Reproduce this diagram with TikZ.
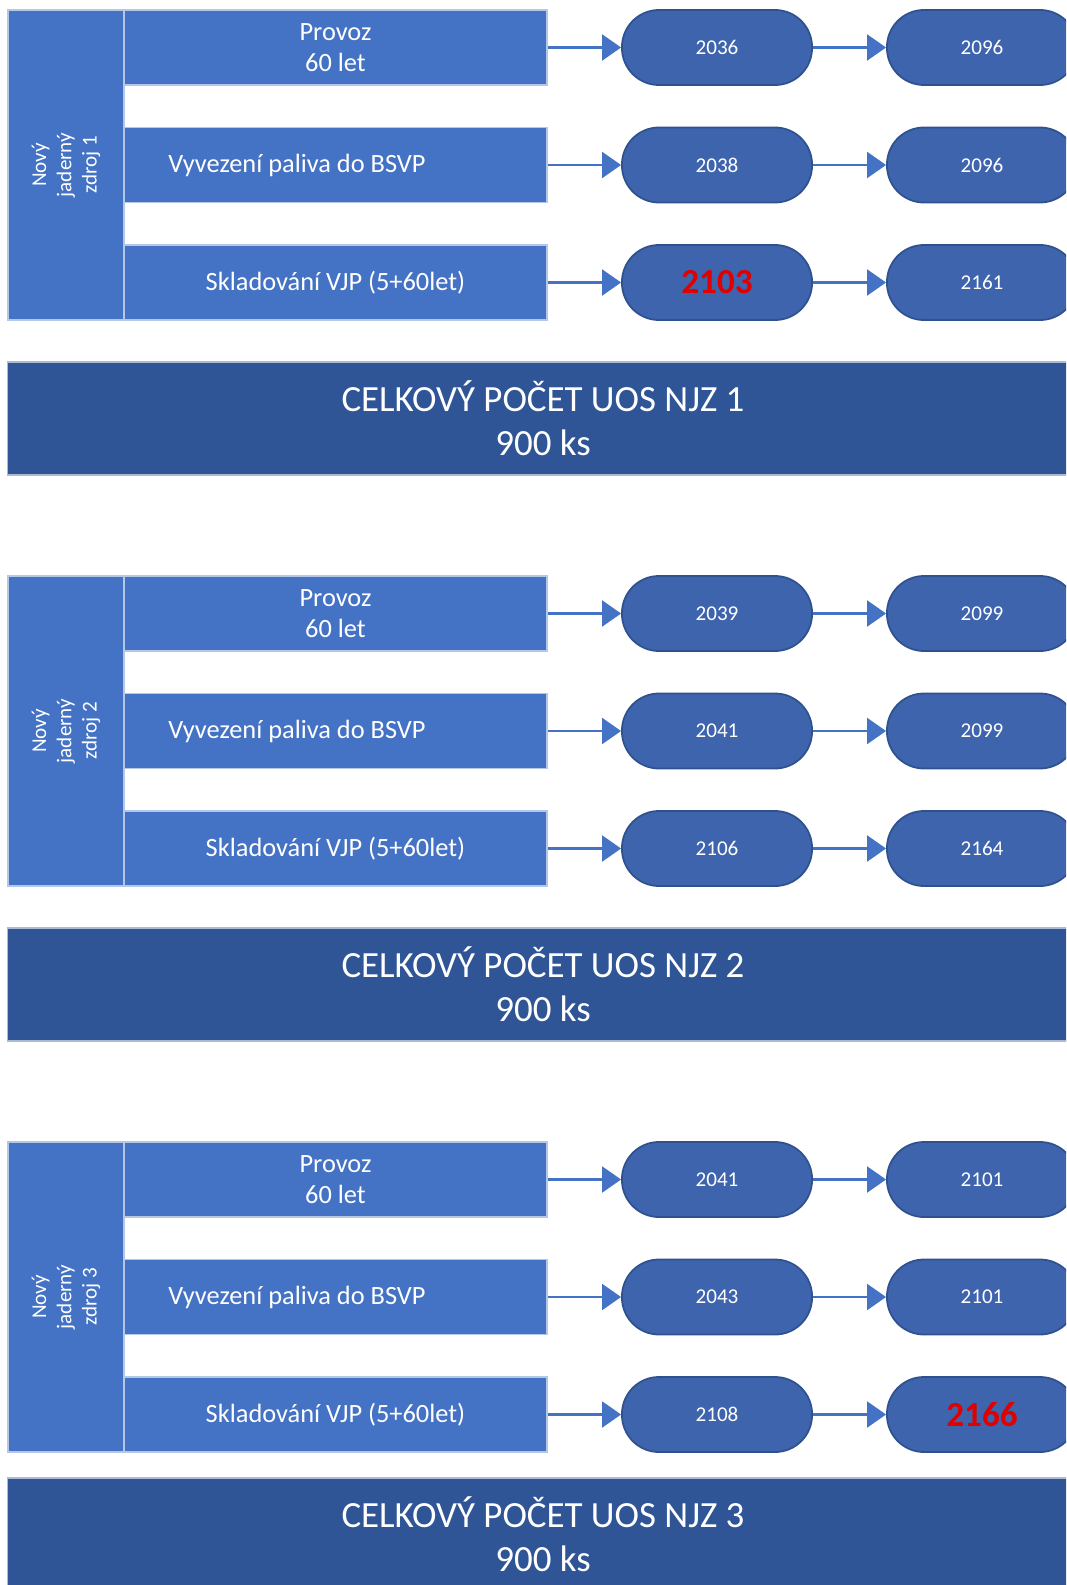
\documentclass[tikz,border=0pt]{standalone}
\usepackage{fontspec}
\setmainfont{Carlito}
\usetikzlibrary{arrows.meta}

\definecolor{barblue}{HTML}{4472C4}
\definecolor{pillblue}{HTML}{3D64AD}
\definecolor{pillline}{HTML}{2F528F}
\definecolor{sumblue}{HTML}{2F5597}
\definecolor{hotred}{HTML}{E00000}

\newcommand{\shiftl}{\hspace{0.77cm}}

\tikzset{
  srcbox/.style={draw=white!60!barblue, line width=0.4pt, fill=barblue, text=white,
    rotate=90, minimum width=3.10cm, minimum height=1.16cm, inner sep=0pt,
    align=center, font=\fontsize{6}{7.2}\selectfont},
  phase/.style={draw=white!60!barblue, line width=0.4pt, fill=barblue, text=white,
    minimum width=4.23cm, minimum height=0.75cm, inner sep=0pt,
    align=center, font=\fontsize{7.5}{8.9}\selectfont},
  year/.style={draw=pillline, line width=0.5pt, fill=pillblue, text=white,
    minimum width=1.9cm, minimum height=0.75cm, rounded corners=0.37cm,
    inner sep=0pt, font=\fontsize{6}{7}\selectfont},
  hot/.style={text=hotred, font=\fontsize{10}{12}\selectfont\bfseries},
  total/.style={draw=white!60!sumblue, line width=0.4pt, fill=sumblue, text=white,
    minimum width=10.7cm, minimum height=1.13cm, inner sep=0pt,
    align=center, font=\fontsize{10.5}{12.6}\selectfont},
  flow/.style={barblue, line width=0.6pt, -{Triangle[length=1.9mm,width=2.6mm]}}
}

\begin{document}
\begin{tikzpicture}[x=0.01cm,y=-0.01cm]
\useasboundingbox (0,0) rectangle (1066,1585);
\clip (0,0) rectangle (1066,1585);

% NJZ 1
\node[srcbox] (src1) at (66,165) {Nový\\jaderný\\zdroj 1};
\node[phase] (op1) at (335.5,47.5) {Provoz\\60 let};
\node[phase] (ex1) at (335.5,165) {Vyvezení paliva do BSVP\shiftl};
\node[phase] (st1) at (335.5,282.5) {Skladování VJP (5+60let)};
\node[year] (op1a) at (717,47.5) {2036};
\node[year] (ex1a) at (717,165) {2038};
\node[year,hot] (st1a) at (717,282.5) {2103};
\node[year] (op1b) at (982,47.5) {2096};
\node[year] (ex1b) at (982,165) {2096};
\node[year] (st1b) at (982,282.5) {2161};
\draw[flow] (op1) -- (op1a);
\draw[flow] (ex1) -- (ex1a);
\draw[flow] (st1) -- (st1a);
\draw[flow] (op1a) -- (op1b);
\draw[flow] (ex1a) -- (ex1b);
\draw[flow] (st1a) -- (st1b);
\node[total] (sum1) at (543,418.5) {CELKOVÝ POČET UOS NJZ 1\\900 ks};

% NJZ 2
\node[srcbox] (src2) at (66,731) {Nový\\jaderný\\zdroj 2};
\node[phase] (op2) at (335.5,613.5) {Provoz\\60 let};
\node[phase] (ex2) at (335.5,731) {Vyvezení paliva do BSVP\shiftl};
\node[phase] (st2) at (335.5,848.5) {Skladování VJP (5+60let)};
\node[year] (op2a) at (717,613.5) {2039};
\node[year] (ex2a) at (717,731) {2041};
\node[year] (st2a) at (717,848.5) {2106};
\node[year] (op2b) at (982,613.5) {2099};
\node[year] (ex2b) at (982,731) {2099};
\node[year] (st2b) at (982,848.5) {2164};
\draw[flow] (op2) -- (op2a);
\draw[flow] (ex2) -- (ex2a);
\draw[flow] (st2) -- (st2a);
\draw[flow] (op2a) -- (op2b);
\draw[flow] (ex2a) -- (ex2b);
\draw[flow] (st2a) -- (st2b);
\node[total] (sum2) at (543,984.5) {CELKOVÝ POČET UOS NJZ 2\\900 ks};

% NJZ 3
\node[srcbox] (src3) at (66,1297) {Nový\\jaderný\\zdroj 3};
\node[phase] (op3) at (335.5,1179.5) {Provoz\\60 let};
\node[phase] (ex3) at (335.5,1297) {Vyvezení paliva do BSVP\shiftl};
\node[phase] (st3) at (335.5,1414.5) {Skladování VJP (5+60let)};
\node[year] (op3a) at (717,1179.5) {2041};
\node[year] (ex3a) at (717,1297) {2043};
\node[year] (st3a) at (717,1414.5) {2108};
\node[year] (op3b) at (982,1179.5) {2101};
\node[year] (ex3b) at (982,1297) {2101};
\node[year,hot] (st3b) at (982,1414.5) {2166};
\draw[flow] (op3) -- (op3a);
\draw[flow] (ex3) -- (ex3a);
\draw[flow] (st3) -- (st3a);
\draw[flow] (op3a) -- (op3b);
\draw[flow] (ex3a) -- (ex3b);
\draw[flow] (st3a) -- (st3b);
\node[total] (sum3) at (543,1534.5) {CELKOVÝ POČET UOS NJZ 3\\900 ks};
\end{tikzpicture}
\end{document}
